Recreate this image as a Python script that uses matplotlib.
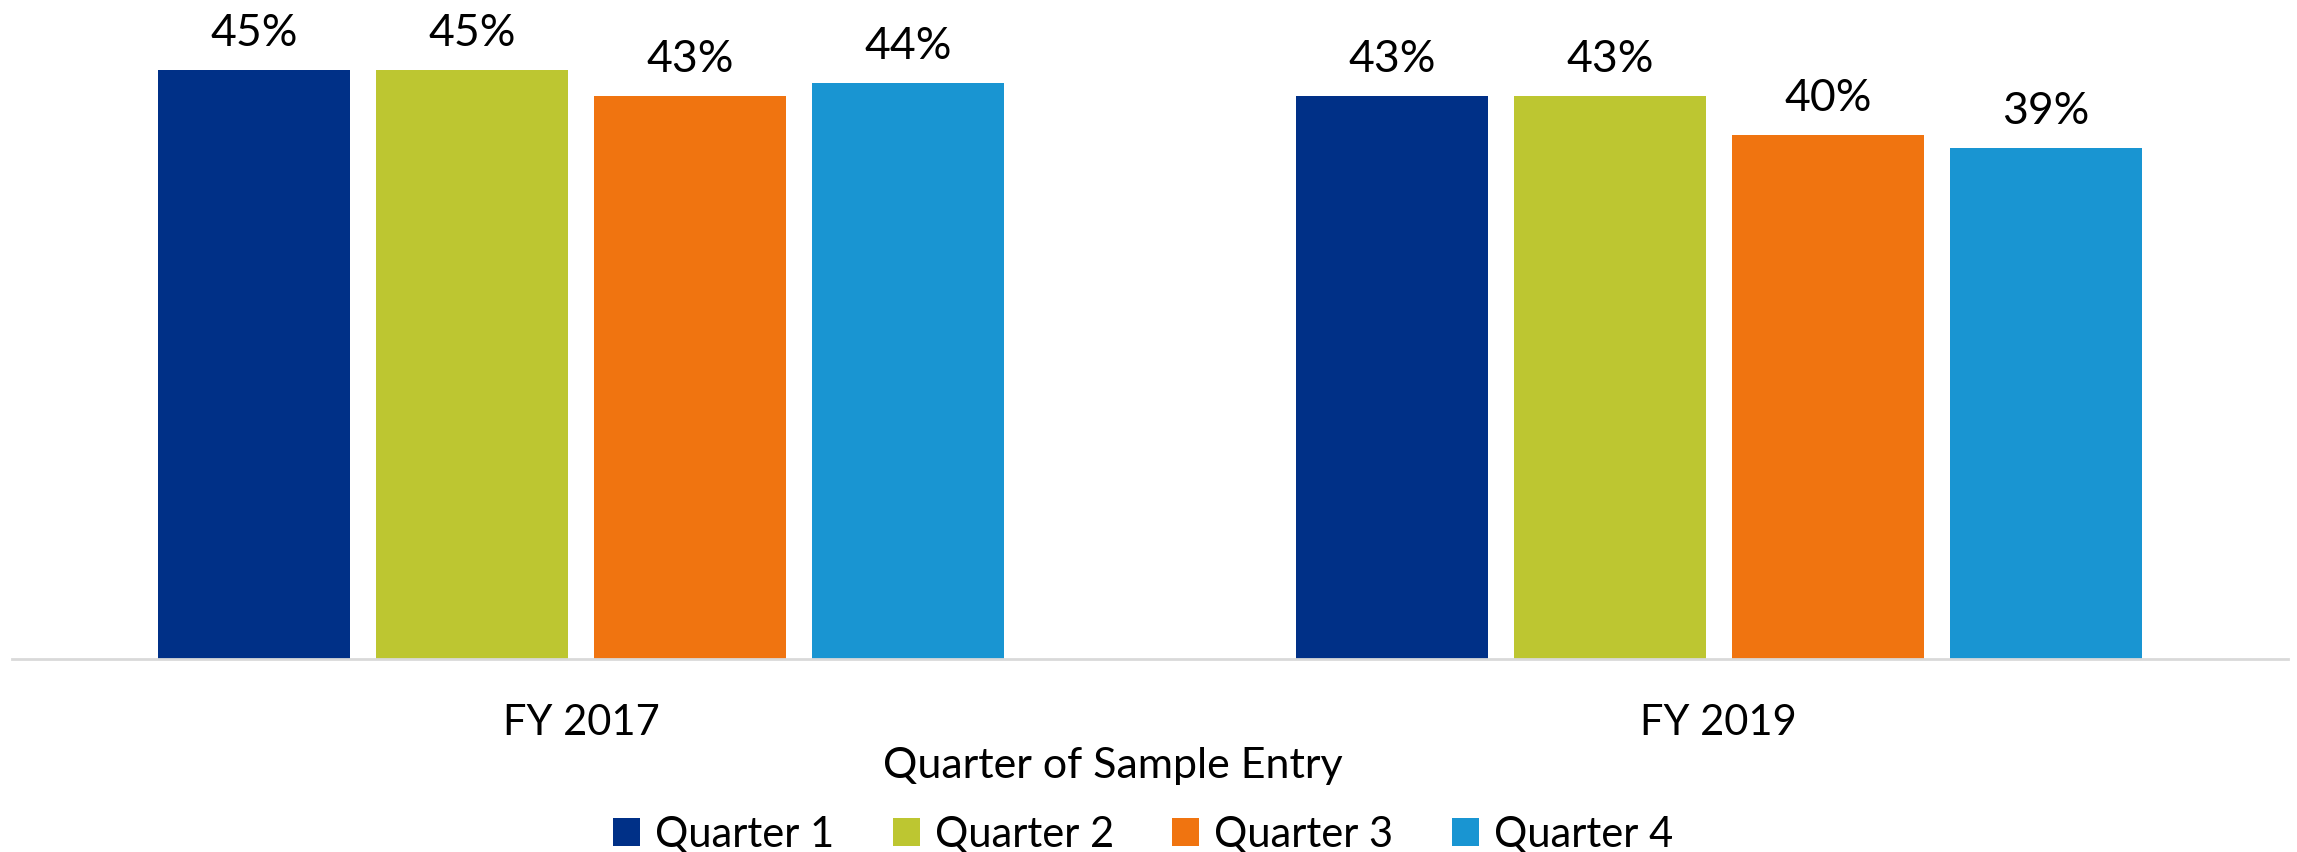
import numpy as np
import matplotlib
matplotlib.use("Agg")
from matplotlib import pyplot as plt

plt.rcParams['font.family'] = ['Lato', 'DejaVu Sans']

#Data
years = ["FY 2017", "FY 2019"]
quarters = ["Quarter 1", "Quarter 2", "Quarter 3", "Quarter 4"]
q1 = [0.45, 0.43]
q2 = [0.45, 0.43]
q3 = [0.43, 0.40]
q4 = [0.44, 0.39]
colors = ["#003087", "#BDC631", "#F07410", "#1995D2"]

W, H = 2297, 852
fig = plt.figure(figsize=(W / 100, H / 100), dpi=100)
ax = fig.add_axes([0.0052, 0.2265, 0.9908, 0.7688])

x = np.arange(len(years))
width = 0.1687
pitch = 0.1916
series = [q1, q2, q3, q4]

for i in range(len(series)):
    pos = x + (i - 1.5) * pitch
    ax.bar(pos, series[i], width, color=colors[i], label=quarters[i])
    for px, v in zip(pos, series[i]):
        ax.annotate("%d%%" % round(v * 100), xy=(px, v), xytext=(0, 17),
                    textcoords="offset points", ha="center", va="baseline",
                    fontsize=32, color="#000000")

ax.set_xlim(-0.5, 1.5)
ax.set_ylim(0, 0.5)
ax.set_yticks([])
ax.set_xticks(x)
ax.set_xticklabels(years, fontsize=30)
ax.tick_params(axis="x", length=0, pad=54.5)
for lbl in ax.get_xticklabels():
    lbl.set_verticalalignment("baseline")
for s in ["top", "right", "left"]:
    ax.spines[s].set_visible(False)
ax.spines["bottom"].set_color("#D9D9D9")
ax.spines["bottom"].set_linewidth(2)

# axis title
fig.text(1113 / W, 1 - 778 / H, "Quarter of Sample Entry", fontsize=31,
         ha="center", va="baseline")

fig.legend(loc="center", bbox_to_anchor=(1143 / W, 1 - 835 / H), ncol=4,
           fontsize=30, frameon=False, handlelength=0.65, handleheight=0.65,
           handletextpad=0.36, columnspacing=1.4, borderpad=0)

fig.savefig("out.png", dpi=100)
